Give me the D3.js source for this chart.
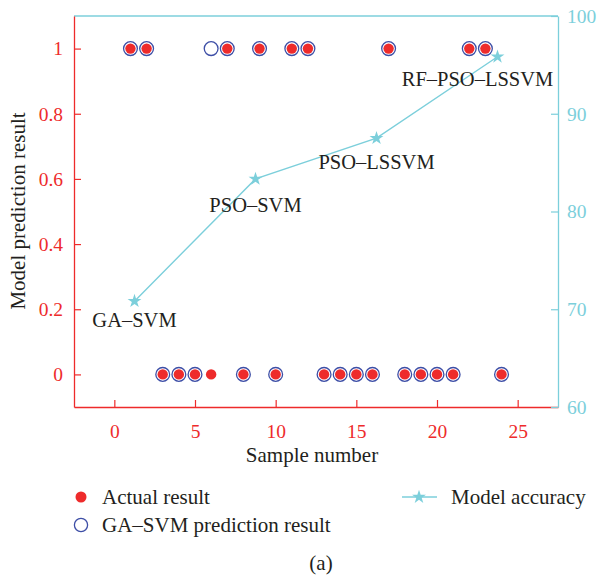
<!DOCTYPE html>
<html>
<head>
<meta charset="utf-8">
<script src="https://cdn.jsdelivr.net/npm/d3@7"></script>
<style>
  body { margin: 0; background: #fff; }
  svg { display: block; }
  text { font-family: "Liberation Serif", "DejaVu Serif", serif; }
</style>
</head>
<body>
<svg id="chart" width="601" height="582"></svg>
<script>
// ---- data ----
const samples = d3.range(1, 25);
const actualResult = [1,1,0,0,0,0,1,0,1,0,1,1,0,0,0,0,1,0,0,0,0,1,1,0];
const gaSvmPrediction = [1,1,0,0,0,1,1,0,1,0,1,1,0,0,0,0,1,0,0,0,0,1,1,0];
const modelNames = ["GA–SVM", "PSO–SVM", "PSO–LSSVM", "RF–PSO–LSSVM"];
const modelX = [1.25, 8.75, 16.25, 23.75];
const modelAccuracy = [70.83, 83.33, 87.5, 95.83];
const xTicks = [0, 5, 10, 15, 20, 25];
const yLeftTicks = [0, 0.2, 0.4, 0.6, 0.8, 1];
const yRightTicks = [60, 70, 80, 90, 100];

// ---- layout / style ----
const RED = "#ee2b2b", BLUE = "#3d4ea6", CYAN = "#7ccfdb", TEXT = "#231f20";
const L = 74, R = 558, T = 16, B = 407;
const svg = d3.select("#chart");

const x = d3.scaleLinear().domain([-2.5, 27.5]).range([L, R]);
const yL = d3.scaleLinear().domain([-0.1, 1.1]).range([B, T]);
const yR = d3.scaleLinear().domain([60, 100]).range([B, T]);

// top border (cyan)
svg.append("line").attr("x1", L).attr("x2", R).attr("y1", T).attr("y2", T)
  .attr("stroke", CYAN).attr("stroke-width", 1.3);

// bottom axis
const gx = svg.append("g").attr("transform", `translate(0,${B})`)
  .call(d3.axisBottom(x).tickValues(xTicks).tickSizeInner(-7).tickSizeOuter(0).tickPadding(17).tickFormat(d3.format("d")));
gx.select(".domain").attr("stroke", RED).attr("stroke-width", 1.3);
gx.selectAll(".tick line").attr("stroke", RED).attr("stroke-width", 1.2);
gx.selectAll(".tick text").attr("fill", RED).style("font-size", "19.5px")
  .style("font-family", "Liberation Serif");

// left axis
const gyl = svg.append("g").attr("transform", `translate(${L},0)`)
  .call(d3.axisLeft(yL).tickValues(yLeftTicks).tickSizeInner(-7).tickSizeOuter(0).tickPadding(11).tickFormat(d => d === 0 || d === 1 ? d3.format("d")(d) : d3.format(".1f")(d)));
gyl.select(".domain").attr("stroke", RED).attr("stroke-width", 1.3);
gyl.selectAll(".tick line").attr("stroke", RED).attr("stroke-width", 1.2);
gyl.selectAll(".tick text").attr("fill", RED).style("font-size", "19.5px")
  .style("font-family", "Liberation Serif");

// right axis
const gyr = svg.append("g").attr("transform", `translate(${R},0)`)
  .call(d3.axisRight(yR).tickValues(yRightTicks).tickSizeInner(-7).tickSizeOuter(0).tickPadding(9).tickFormat(d3.format("d")));
gyr.select(".domain").attr("stroke", CYAN).attr("stroke-width", 1.3);
gyr.selectAll(".tick line").attr("stroke", CYAN).attr("stroke-width", 1.2);
gyr.selectAll(".tick text").attr("fill", CYAN).style("font-size", "19.5px")
  .style("font-family", "Liberation Serif");

// axis titles
svg.append("text").attr("x", 312).attr("y", 462).attr("text-anchor", "middle")
  .attr("fill", TEXT).style("font-size", "21px").text("Sample number");
svg.append("text").attr("transform", "translate(25,211) rotate(-90)").attr("text-anchor", "middle")
  .attr("fill", TEXT).style("font-size", "21px").text("Model prediction result");

// accuracy line
const acc = modelX.map((d, i) => ({ x: d, y: modelAccuracy[i], name: modelNames[i] }));
svg.append("path").datum(acc)
  .attr("d", d3.line().x(d => x(d.x)).y(d => yR(d.y)))
  .attr("fill", "none").attr("stroke", CYAN).attr("stroke-width", 1.4);
svg.selectAll(".star").data(acc).join("path").attr("class", "star")
  .attr("transform", d => `translate(${x(d.x)},${yR(d.y)})`)
  .attr("d", d3.symbol(d3.symbolStar, 60)).attr("fill", CYAN);

// model labels (offsets relative to the star)
const labelOffsets = [[0, 26], [0, 33], [0, 31], [-20, 29]];
svg.selectAll(".mlabel").data(acc).join("text").attr("class", "mlabel")
  .attr("x", (d, i) => x(d.x) + labelOffsets[i][0])
  .attr("y", (d, i) => yR(d.y) + labelOffsets[i][1])
  .attr("text-anchor", "middle").attr("fill", TEXT).style("font-size", "20.5px")
  .text(d => d.name);

// points
const pts = samples.map((s, i) => ({ s, a: actualResult[i], p: gaSvmPrediction[i] }));
svg.selectAll(".actual").data(pts).join("circle").attr("class", "actual")
  .attr("cx", d => x(d.s)).attr("cy", d => yL(d.a)).attr("r", 5.2).attr("fill", RED);
svg.selectAll(".pred").data(pts).join("circle").attr("class", "pred")
  .attr("cx", d => x(d.s)).attr("cy", d => yL(d.p)).attr("r", 6.9)
  .attr("fill", "none").attr("stroke", BLUE).attr("stroke-width", 1.3);

// legend
svg.append("circle").attr("cx", 81).attr("cy", 497).attr("r", 5.5).attr("fill", RED);
svg.append("text").attr("x", 102).attr("y", 504).attr("fill", TEXT).style("font-size", "21px").text("Actual result");
svg.append("circle").attr("cx", 81).attr("cy", 525).attr("r", 6.6).attr("fill", "none").attr("stroke", BLUE).attr("stroke-width", 1.3);
svg.append("text").attr("x", 102).attr("y", 532).attr("fill", TEXT).style("font-size", "21px").text("GA–SVM prediction result");
svg.append("line").attr("x1", 402).attr("x2", 437).attr("y1", 497).attr("y2", 497).attr("stroke", CYAN).attr("stroke-width", 1.4);
svg.append("path").attr("transform", "translate(419,497)").attr("d", d3.symbol(d3.symbolStar, 60)).attr("fill", CYAN);
svg.append("text").attr("x", 451).attr("y", 504).attr("fill", TEXT).style("font-size", "21px").text("Model accuracy");

// caption
svg.append("text").attr("x", 321).attr("y", 570).attr("text-anchor", "middle")
  .attr("fill", TEXT).style("font-size", "21px").text("(a)");
</script>
</body>
</html>
